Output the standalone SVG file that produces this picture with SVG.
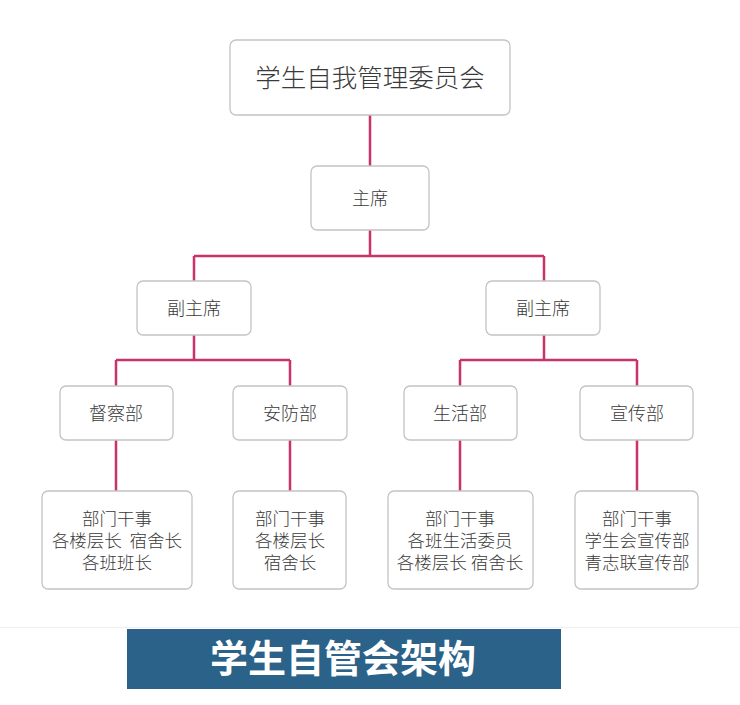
<svg xmlns="http://www.w3.org/2000/svg" width="740" height="705" viewBox="0 0 740 705">
<style>
.box{fill:#fff;stroke:#c4c4c4;stroke-width:1.3}
.t{font-family:"Noto Sans CJK SC","Noto Sans",sans-serif;font-weight:300;fill:#3a3a3a;text-anchor:middle;font-size:17.5px}
.m{font-size:18px}
.big{font-size:25.5px}
.con{fill:none;stroke:#c8336a;stroke-width:2.5}
</style>
<rect width="740" height="705" fill="#fff"/>
<g id="connectors">
<path class="con" d="M370 115V166M370 230V256M194 256H544M194 256V281M544 256V281M194 335V360M116 360H290M116 360V386M290 360V386M544 335V360M460 360H637M460 360V386M637 360V386M116 440V491M290 440V491M460 440V491M637 440V491"/>
</g>
<g id="root"><rect class="box" x="230" y="40" width="280" height="75" rx="6"/><text class="t big" x="370" y="87">学生自我管理委员会</text></g>
<g id="chair"><rect class="box" x="311" y="166" width="118" height="64" rx="6"/><text class="t m" x="370" y="205">主席</text></g>
<g id="vice1"><rect class="box" x="137" y="281" width="114" height="54" rx="6"/><text class="t m" x="194" y="315">副主席</text></g>
<g id="vice2"><rect class="box" x="486" y="281" width="114" height="54" rx="6"/><text class="t m" x="543" y="315">副主席</text></g>
<g id="dept1"><rect class="box" x="60" y="386" width="113" height="54" rx="6"/><text class="t m" x="116" y="420">督察部</text></g>
<g id="dept2"><rect class="box" x="233" y="386" width="114" height="54" rx="6"/><text class="t m" x="290" y="420">安防部</text></g>
<g id="dept3"><rect class="box" x="404" y="386" width="113" height="54" rx="6"/><text class="t m" x="460" y="420">生活部</text></g>
<g id="dept4"><rect class="box" x="580" y="386" width="113" height="54" rx="6"/><text class="t m" x="637" y="420">宣传部</text></g>
<g id="detail1"><rect class="box" x="42" y="491" width="150" height="98" rx="6"/>
<text class="t" x="117" y="525">部门干事</text><text class="t" x="117" y="547" xml:space="preserve">各楼层长  宿舍长</text><text class="t" x="117" y="569">各班班长</text></g>
<g id="detail2"><rect class="box" x="233" y="491" width="113" height="98" rx="6"/>
<text class="t" x="290" y="525">部门干事</text><text class="t" x="290" y="547">各楼层长</text><text class="t" x="290" y="569">宿舍长</text></g>
<g id="detail3"><rect class="box" x="388" y="491" width="145" height="98" rx="6"/>
<text class="t" x="460" y="525">部门干事</text><text class="t" x="460" y="547">各班生活委员</text><text class="t" x="460" y="569">各楼层长 宿舍长</text></g>
<g id="detail4"><rect class="box" x="575" y="491" width="123" height="98" rx="6"/>
<text class="t" x="637" y="525">部门干事</text><text class="t" x="637" y="547">学生会宣传部</text><text class="t" x="637" y="569">青志联宣传部</text></g>
<line x1="0" y1="627.5" x2="740" y2="627.5" stroke="#eeeeee" stroke-width="1"/>
<g id="title"><rect x="127" y="629" width="434" height="60" fill="#2b6289"/>
<text x="343" y="672" font-family="Noto Sans CJK SC,sans-serif" font-weight="bold" font-size="38" fill="#fff" text-anchor="middle">学生自管会架构</text></g>
</svg>
